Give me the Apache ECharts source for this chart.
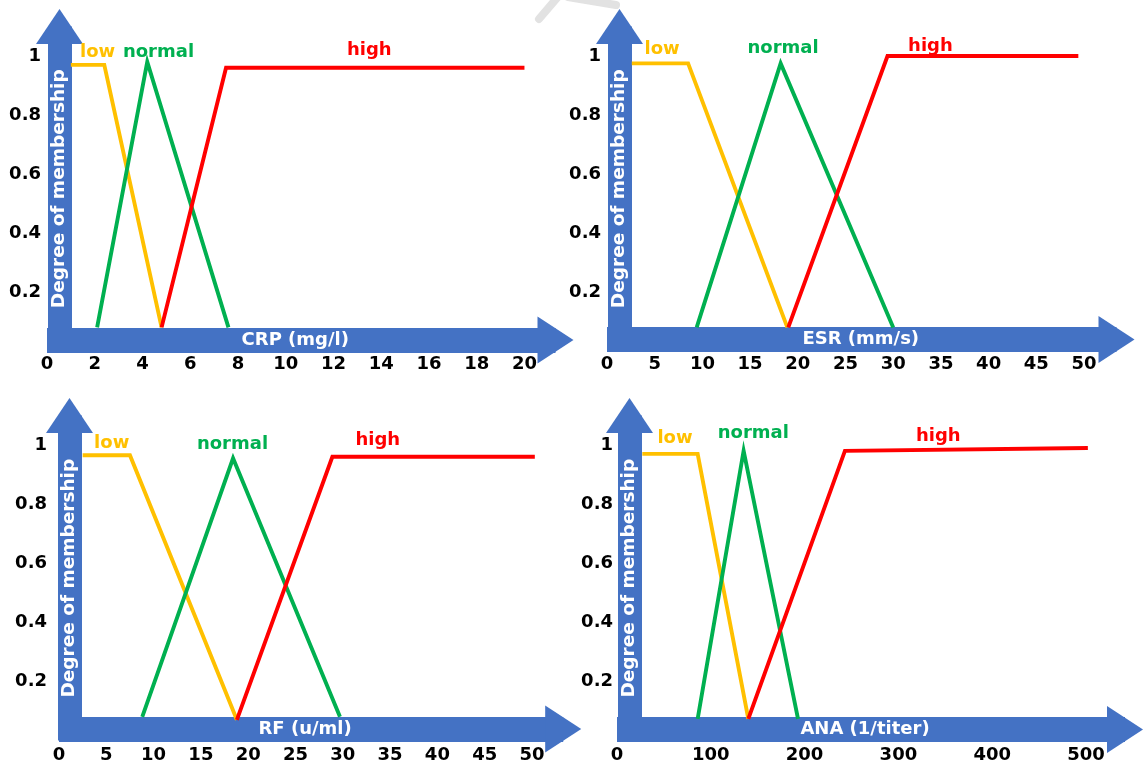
<!DOCTYPE html>
<html>
<head>
<meta charset="utf-8">
<title>Fuzzy membership functions</title>
<script src="https://cdn.jsdelivr.net/npm/echarts@6/dist/echarts.min.js"></script>
<style>
  html, body { margin: 0; padding: 0; background: #ffffff; }
  #chart { width: 1143px; height: 764px; }
</style>
</head>
<body>
<div id="chart"></div>
<script>
// Membership functions: [input value, degree of membership]
const crpLow    = [[1, 0.97], [2.4, 0.97], [4.8, 0.08]];
const crpNormal = [[2.1, 0.08], [4.2, 0.98], [7.6, 0.08]];
const crpHigh   = [[4.8, 0.08], [7.5, 0.96], [20, 0.96]];

const esrLow    = [[2.6, 0.975], [8.5, 0.975], [18.9, 0.08]];
const esrNormal = [[9.4, 0.08], [18.2, 0.975], [30, 0.08]];
const esrHigh   = [[19, 0.08], [29.4, 1.0], [49.4, 1.0]];

const rfLow     = [[2.5, 0.965], [7.5, 0.965], [18.8, 0.07]];
const rfNormal  = [[8.8, 0.08], [18.4, 0.955], [29.7, 0.08]];
const rfHigh    = [[18.8, 0.07], [28.9, 0.96], [50.3, 0.96]];

const anaLow    = [[27, 0.97], [86, 0.97], [140, 0.075]];
const anaNormal = [[86, 0.075], [135, 0.98], [193, 0.075]];
const anaHigh   = [[140, 0.075], [243, 0.98], [502, 0.99]];

// Tick labels
const crpTicks = [0, 2, 4, 6, 8, 10, 12, 14, 16, 18, 20];
const esrTicks = [0, 5, 10, 15, 20, 25, 30, 35, 40, 45, 50];
const rfTicks  = [0, 5, 10, 15, 20, 25, 30, 35, 40, 45, 50];
const anaTicks = [0, 100, 200, 300, 400, 500];
const degreeTicks = [0.2, 0.4, 0.6, 0.8, 1];

const setNames = ['low', 'normal', 'high'];
const setColors = ['#FFC000', '#00B050', '#FF0000'];
const ARROW = '#4472C4';
const FONT = 'DejaVu Sans';
const Y_TITLE = 'Degree of membership';

// Panel layout; tags = where each set name is written, in data units
const panels = [
  { title: 'CRP (mg/l)', sets: [crpLow, crpNormal, crpHigh], ticks: crpTicks,
    grid: { left: 47, top: 26.5, width: 508.5, height: 324.5 }, xMax: 21.3,
    xOffset: -11, yOffset: -12.5, xMargin: 15, yMargin: 18.5, titleShift: -6,
    tags: [[2.12, 1.013], [4.67, 1.013], [13.5, 1.018]] },
  { title: 'ESR (mm/s)', sets: [esrLow, esrNormal, esrHigh], ticks: esrTicks,
    grid: { left: 607, top: 26.5, width: 509.5, height: 324.5 }, xMax: 53.4,
    xOffset: -11.5, yOffset: -12.5, xMargin: 16, yMargin: 18.5, titleShift: -1,
    tags: [[5.77, 1.024], [18.45, 1.025], [33.9, 1.034]] },
  { title: 'RF (u/ml)', sets: [rfLow, rfNormal, rfHigh], ticks: rfTicks,
    grid: { left: 59, top: 415.4, width: 504.2, height: 325.6 }, xMax: 53.3,
    xOffset: -11.5, yOffset: -10.5, xMargin: 17, yMargin: 22.5, titleShift: -6,
    tags: [[5.57, 1.007], [18.34, 1.001], [33.7, 1.0155]] },
  { title: 'ANA (1/titer)', sets: [anaLow, anaNormal, anaHigh], ticks: anaTicks,
    grid: { left: 617, top: 415.4, width: 508, height: 325.6 }, xMax: 541.6,
    xOffset: -11.5, yOffset: -12.5, xMargin: 16.5, yMargin: 16.5, titleShift: -6,
    tags: [[61.8, 1.024], [145.3, 1.038], [342.6, 1.03]] }
];

const grid = [], xAxis = [], yAxis = [], series = [], graphic = [];

const tickLabel = function (margin, values) {
  return {
    customValues: values, margin: margin,
    color: '#000', fontFamily: FONT, fontWeight: 'bold', fontSize: 18,
    formatter: function (v) { return String(v); }
  };
};

panels.forEach(function (p, i) {
  const g = p.grid;
  grid.push(Object.assign({ containLabel: false }, g));

  xAxis.push({
    type: 'value', gridIndex: i, min: 0, max: p.xMax,
    position: 'bottom', offset: p.xOffset,
    splitLine: { show: false },
    axisTick: { show: false },
    axisLine: {
      show: true, onZero: false,
      symbol: ['none', 'triangle'], symbolSize: [47, 36],
      lineStyle: { color: ARROW, width: 25, cap: 'butt' }
    },
    axisLabel: tickLabel(p.xMargin, p.ticks)
  });

  yAxis.push({
    type: 'value', gridIndex: i, min: 0, max: 1.1,
    position: 'left', offset: p.yOffset,
    splitLine: { show: false },
    axisTick: { show: false },
    axisLine: {
      show: true, onZero: false,
      symbol: ['none', 'triangle'], symbolSize: [47, 35],
      lineStyle: { color: ARROW, width: 24, cap: 'butt' }
    },
    axisLabel: tickLabel(p.yMargin, degreeTicks)
  });

  // White titles written inside the arrow shafts
  graphic.push({
    type: 'text', z: 100, silent: true,
    x: g.left + g.width / 2 + p.titleShift,
    y: g.top + g.height + p.xOffset,
    style: {
      text: p.title, fill: '#ffffff', font: 'bold 18px "' + FONT + '"',
      textAlign: 'center', textVerticalAlign: 'middle'
    }
  });
  graphic.push({
    type: 'text', z: 100, silent: true, rotation: Math.PI / 2,
    x: g.left - p.yOffset,
    y: g.top + g.height / 2,
    style: {
      text: Y_TITLE, fill: '#ffffff', font: 'bold 18.5px "' + FONT + '"',
      textAlign: 'center', textVerticalAlign: 'middle'
    }
  });

  p.sets.forEach(function (data, k) {
    series.push({
      type: 'line', name: setNames[k], xAxisIndex: i, yAxisIndex: i,
      data: data, symbol: 'none', silent: true, z: 5,
      lineStyle: { color: setColors[k], width: 3.9, join: 'miter', cap: 'butt' },
      markPoint: {
        symbol: 'circle', symbolSize: 0, silent: true,
        label: {
          show: true, position: 'inside', formatter: setNames[k],
          color: setColors[k], fontFamily: FONT, fontWeight: 'bold', fontSize: 18
        },
        data: [{ coord: p.tags[k] }]
      }
    });
  });
});

// faint grey strokes along the top edge
graphic.push({
  type: 'polyline', silent: true, z: 1,
  shape: { points: [[539, 19], [557, -2]] },
  style: { stroke: '#e2e2e2', lineWidth: 8, fill: null, lineCap: 'round' }
});
graphic.push({
  type: 'polyline', silent: true, z: 1,
  shape: { points: [[568, -3], [616, 5]] },
  style: { stroke: '#e2e2e2', lineWidth: 8, fill: null, lineCap: 'round' }
});

const chart = echarts.init(document.getElementById('chart'), null, { renderer: 'canvas' });
chart.setOption({
  animation: false,
  backgroundColor: '#ffffff',
  grid: grid,
  xAxis: xAxis,
  yAxis: yAxis,
  series: series,
  graphic: graphic
});
</script>
</body>
</html>
